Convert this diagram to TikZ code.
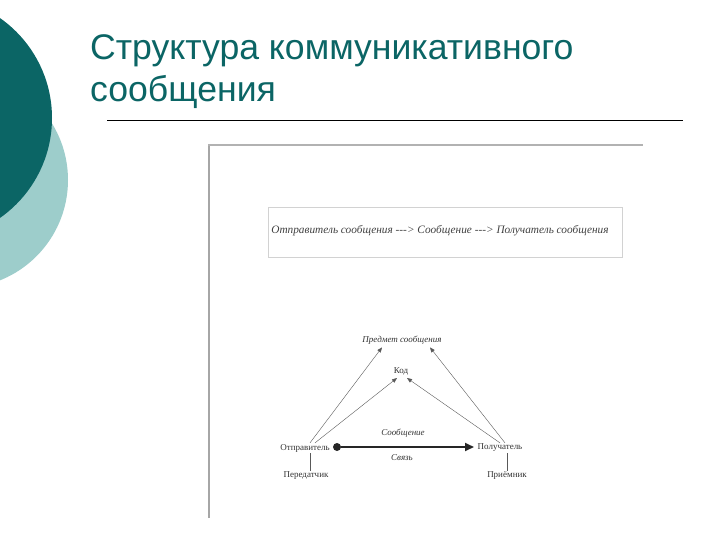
\documentclass[tikz,border=0pt]{standalone}
\usepackage{fontspec}
\setmainfont{Liberation Serif}
\newfontfamily\titlefont{Liberation Sans}
\usetikzlibrary{arrows.meta}
\definecolor{tealdark}{HTML}{0B6565}
\definecolor{teallight}{HTML}{9DCDCB}
\tikzset{
  lbl/.style={font=\fontsize{9}{10}\selectfont, text=black!80, inner sep=1pt},
  ilbl/.style={lbl, font=\fontsize{9}{10}\selectfont\itshape},
  arr/.style={draw=black!65, thin, -{Triangle[length=5pt,width=4pt]}},
}
\begin{document}
\begin{tikzpicture}[x=1pt,y=-1pt]
	\useasboundingbox (0,0) rectangle (720,540);
	\fill[teallight] (-40,180) circle (108);
	\fill[tealdark] (-70,118) circle (122);
	% title
	\node[anchor=base west, inner sep=0, text=tealdark, font=\titlefont\fontsize{35.6}{41}\selectfont] (title1) at (90,60) {Структура коммуникативного};
	\node[anchor=base west, inner sep=0, text=tealdark, font=\titlefont\fontsize{35.6}{41}\selectfont] (title2) at (90,102) {сообщения};
	\draw[thin] (107,120) -- (683,120);
	% scanned page
	\draw[gray!70, line width=2.5pt] (209,518) -- (209,145);
	\draw[gray!60, line width=1.5pt] (208,145) -- (643,145);
	\node[draw=gray!35, minimum width=354, minimum height=50] (chain) at (445,232) {};
	\node[font=\fontsize{11.3}{13}\selectfont\itshape, text=black!75] (chaintext) at (440,231) {Отправитель сообщения -{}-{}-> Сообщение -{}-{}-> Получатель сообщения};
	% triangle
	\node[ilbl] (subj) at (402,340) {Предмет сообщения};
	\node[lbl] (code) at (401,371) {Код};
	\node[lbl] (sender) at (305,448) {Отправитель};
	\node[lbl] (recv) at (500,448) {Получатель};
	\node[lbl] (tx) at (306,476) {Передатчик};
	\node[lbl] (rx) at (507,476) {Приёмник};
	\node[ilbl] (msg) at (403,433) {Сообщение};
	\node[ilbl] (link) at (402,458) {Связь};
	\node[circle, fill=black!85, inner sep=0, minimum size=8] (dot) at (337,447) {};
	\coordinate (msgend) at (474,447);
	\draw[line width=1.8pt, black!85, -{Triangle[length=9pt,width=8pt]}] (dot) -- (msgend);
	\draw[arr] ([xshift=5pt]sender.north) -- ([xshift=-20pt,yshift=-2pt]subj.south);
	\draw[arr] ([xshift=10pt]sender.north) -- ([xshift=-4pt,yshift=-2pt]code.south);
	\draw[arr] ([xshift=5pt]recv.north) -- ([xshift=28pt,yshift=-2pt]subj.south);
	\draw[arr] ([xshift=0pt]recv.north) -- ([xshift=6pt,yshift=-2pt]code.south);
	\draw[black!65, thin] ([xshift=5pt]sender.south) -- ([xshift=4pt]tx.north);
	\draw[black!65, thin] ([xshift=7pt]recv.south) -- (rx.north);
\end{tikzpicture}
\end{document}
